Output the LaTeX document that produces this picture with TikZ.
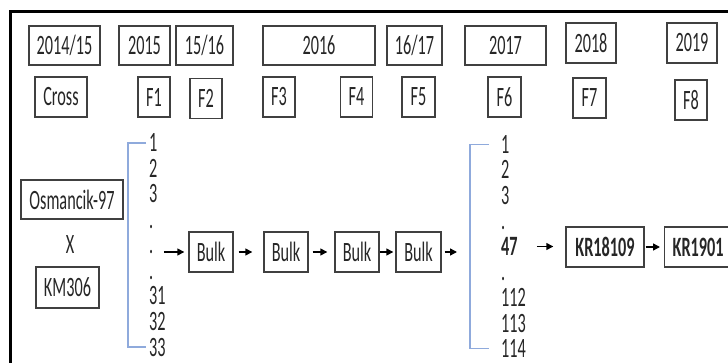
\documentclass[tikz,border=0pt]{standalone}
\usepackage{fontspec}
\setmainfont[FakeStretch=0.58]{Carlito}
\usetikzlibrary{arrows.meta}

\definecolor{boxline}{RGB}{64,64,64}
\definecolor{bracketblue}{RGB}{143,170,220}
\definecolor{txt}{RGB}{38,38,38}

\begin{document}
\begin{tikzpicture}[
    x=1pt, y=-1pt,
    font=\fontsize{28}{30}\selectfont,
    text=txt,
    box/.style={rectangle, draw=boxline, line width=1.4pt, minimum height=40pt, inner sep=0pt},
    num/.style={anchor=west, inner sep=0pt, text height=18pt, text depth=0pt},
    bracket/.style={draw=bracketblue, line width=1.5pt},
    arrow/.style={-{Triangle[length=7pt,width=7pt]}, line width=1.4pt, shorten <=2pt, shorten >=2pt}
]
    \useasboundingbox (0,0) rectangle (728,363);
    \draw[line width=3pt] (10,12) rectangle (750,390);

    % years
    \node[box, minimum width=71pt, minimum height=39pt] (y1415) at (64.5,45.5) {2014/15};
    \node[box, minimum width=51pt, minimum height=39pt] (y15) at (144.5,45.5) {2015};
    \node[box, minimum width=57pt, minimum height=39pt] (y1516) at (204.5,45.5) {15/16};
    \node[box, minimum width=112pt, minimum height=39pt] (y16) at (319,45.5) {2016};
    \node[box, minimum width=55pt, minimum height=39pt] (y1617) at (414.5,45.5) {16/17};
    \node[box, minimum width=81pt, minimum height=39pt] (y17) at (505.5,45.5) {2017};
    \node[box, minimum width=50pt] (y18) at (591,43) {2018};
    \node[box, minimum width=50pt] (y19) at (692,43) {2019};

    % generations
    \node[box, minimum width=52pt] (cross) at (61,97) {Cross};
    \node[box, minimum width=32pt] (f1) at (154,97) {F1};
    \node[box, minimum width=32pt] (f2) at (206,98.5) {F2};
    \node[box, minimum width=32pt] (f3) at (279,97) {F3};
    \node[box, minimum width=32pt] (f4) at (356.5,97) {F4};
    \node[box, minimum width=33pt] (f5) at (418.5,97) {F5};
    \node[box, minimum width=33pt] (f6) at (504.5,97) {F6};
    \node[box, minimum width=33pt] (f7) at (589.5,98) {F7};
    \node[box, minimum width=32pt] (f8) at (691,100) {F8};

    % parents
    \node[box, minimum width=102pt, minimum height=39pt] (osm) at (72,199.5) {Osmancik-97};
    \node (crossx) at (70,245) {X};
    \node[box, minimum width=63pt, minimum height=41pt] (km) at (67.5,287.5) {KM306};

    % lines
    \foreach \t [count=\i] in {1,2,3,.,.,.,31,32,33}
        \node[num] (a\i) at (149,{143+25.5*(\i-1)}) {\t};
    \foreach \t [count=\i] in {1,2,3,.,\textbf{47},.,112,113,114}
        \node[num] (b\i) at (501,{144.5+25.5*(\i-1)}) {\t};
    \draw[bracket] ([xshift=-3pt]a1.west) -- ++(-18,0) |- ([xshift=-3pt]a9.west);
    \draw[bracket] ([xshift=-12pt]b1.west) -- ++(-19,0) |- ([xshift=-12pt]b9.west);
    \coordinate (brB) at ([xshift=-31pt]b5.west);

    % bulks
    \node[box, minimum width=44pt] (bulkA) at (211,252) {Bulk};
    \node[box, minimum width=44pt] (bulkB) at (286,252) {Bulk};
    \node[box, minimum width=44pt] (bulkC) at (357,252) {Bulk};
    \node[box, minimum width=45pt] (bulkD) at (418.5,252) {Bulk};

    % selected lines
    \node[box, minimum width=78pt, font=\fontsize{28}{30}\selectfont\bfseries] (krA) at (605,247) {KR18109};
    \node[box, anchor=west, inner xsep=8pt, font=\fontsize{28}{30}\selectfont\bfseries] (krB) at (664,247) {KR1901\hspace{12pt}};

    \draw[arrow, shorten <=-2pt, shorten >=4pt] (a9.east |- bulkA) -- (bulkA);
    \draw[arrow, shorten <=5pt, shorten >=11pt] (bulkA) -- (bulkB);
    \draw[arrow, shorten <=4pt, shorten >=7pt] (bulkB) -- (bulkC);
    \draw[arrow, shorten <=0pt, shorten >=2pt] (bulkC) -- (bulkD);
    \draw[arrow, shorten <=3pt, shorten >=13pt] (bulkD) -- (bulkD -| brB);
    \draw[arrow, shorten <=19pt, shorten >=12pt] (b5.east) -- (b5.east -| krA.west);
    \draw[arrow, shorten <=1pt, shorten >=4pt] (krA) -- (krB);
\end{tikzpicture}
\end{document}
